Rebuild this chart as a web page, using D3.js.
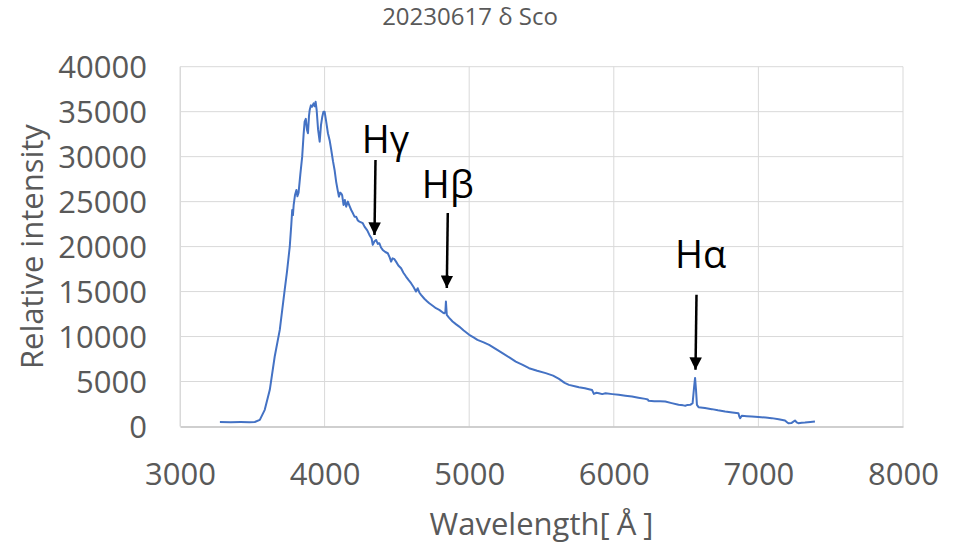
<!DOCTYPE html>
<meta charset="utf-8">
<style>
  body { margin: 0; background: #fff; }
  svg { display: block; }
  text { font-family: "Open Sans", sans-serif; }
  .tick text { fill: #595959; font-size: 31px; }
</style>
<body>
<svg width="955" height="545"></svg>
<script src="https://d3js.org/d3.v7.min.js"></script>
<script>
// spectrum (wavelength in Å, relative intensity)
const wavelength = [
  3276, 3350, 3420, 3480, 3517, 3552, 3586, 3621, 3655, 3690, 3724, 3740, 3759, 3770, 3776, 3781,
  3786, 3795, 3805, 3812, 3820, 3832, 3845, 3855, 3862, 3870, 3878, 3885, 3892, 3897, 3905, 3913,
  3924, 3932, 3938, 3945, 3955, 3966, 3975, 3984, 3992, 4000, 4010, 4023, 4035, 4046, 4058, 4069,
  4080, 4090, 4099, 4108, 4115, 4121, 4131, 4140, 4149, 4161, 4170, 4184, 4196, 4207, 4218, 4230,
  4241, 4264, 4276, 4295, 4310, 4325, 4333, 4345, 4356, 4368, 4379, 4390, 4402, 4420, 4437, 4450,
  4460, 4470, 4483, 4494, 4510, 4529, 4545, 4563, 4580, 4598, 4615, 4632, 4644, 4655, 4667, 4690,
  4710, 4724, 4750, 4770, 4793, 4815, 4828, 4835, 4839, 4845, 4860, 4885, 4910, 4931, 4960, 5000,
  5030, 5057, 5100, 5138, 5180, 5230, 5280, 5322, 5370, 5414, 5470, 5529, 5580, 5621, 5660, 5690,
  5730, 5759, 5800, 5828, 5850, 5862, 5880, 5897, 5920, 5943, 5990, 6034, 6080, 6126, 6170, 6218,
  6235, 6241, 6280, 6320, 6356, 6400, 6448, 6480, 6494, 6510, 6529, 6545, 6556, 6562, 6568, 6575,
  6586, 6630, 6678, 6720, 6770, 6820, 6862, 6868, 6874, 6885, 6920, 6954, 7000, 7050, 7092, 7140,
  7184, 7200, 7207, 7230, 7253, 7265, 7276, 7300, 7322, 7360, 7391
];
const intensity = [
  490, 480, 490, 480, 500, 740, 1850, 4080, 7780, 10740, 15190, 17220, 20000, 22500, 24080, 23500,
  24600, 25700, 26300, 25600, 26000, 28000, 30000, 32500, 33890, 34200, 33000, 32600, 34500, 35190, 35700, 35550,
  35930, 35600, 36100, 35190, 33000, 31670, 33500, 34440, 35000, 35000, 34000, 32600, 31800, 30740, 29500, 28520,
  27200, 26300, 25550, 26000, 25900, 25740, 24630, 25190, 24440, 25000, 24600, 24070, 23700, 23330, 23330, 22900,
  22780, 22600, 22220, 21800, 21300, 20900, 20190, 20600, 20740, 20300, 20370, 19900, 19630, 19400, 19260, 18800,
  18330, 18700, 18600, 18330, 17900, 17590, 17100, 16670, 16300, 15930, 15500, 15000, 15370, 14900, 14630, 14200,
  13900, 13700, 13400, 13150, 12960, 12700, 12590, 12700, 13890, 12410, 12100, 11670, 11350, 11110, 10700, 10190,
  9900, 9630, 9350, 9080, 8650, 8150, 7650, 7220, 6850, 6480, 6200, 5930, 5650, 5300, 4850, 4630,
  4480, 4370, 4250, 4150, 4050, 3630, 3750, 3700, 3600, 3700, 3600, 3520, 3420, 3330, 3200, 3070,
  3000, 2850, 2820, 2800, 2780, 2600, 2410, 2350, 2310, 2400, 2410, 2600, 4500, 5400, 4200, 2400,
  2150, 2050, 1930, 1800, 1670, 1560, 1480, 1100, 930, 1190, 1150, 1110, 1050, 990, 930, 800,
  670, 450, 370, 400, 670, 450, 370, 420, 440, 500, 560
];

const xTicks = [3000, 4000, 5000, 6000, 7000, 8000];
const yTicks = [0, 5000, 10000, 15000, 20000, 25000, 30000, 35000, 40000];

// Balmer line markers: name, wavelength of the arrow, intensity at the arrow tip
const lineNames = ["Hγ", "Hβ", "Hα"];
const lineWl = [4345, 4845, 6565];
const lineTip = [21300, 15400, 6300];

const title = "20230617 δ Sco";

const svg = d3.select("svg");
const plotL = 180, plotR = 903, plotT = 66.7, plotB = 426.5;

const x = d3.scaleLinear().domain([3000, 8000]).range([plotL, plotR]);
const y = d3.scaleLinear().domain([0, 40000]).range([plotB, plotT]);

// grid
svg.append("g")
  .selectAll("line")
  .data(yTicks.slice(1))
  .join("line")
  .attr("x1", plotL).attr("x2", plotR)
  .attr("y1", d => y(d)).attr("y2", d => y(d))
  .attr("stroke", "#d9d9d9").attr("stroke-width", 1);

svg.append("g")
  .selectAll("line")
  .data(xTicks)
  .join("line")
  .attr("x1", d => x(d)).attr("x2", d => x(d))
  .attr("y1", plotT).attr("y2", plotB)
  .attr("stroke", "#d9d9d9").attr("stroke-width", 1);

// axes
const xAxis = svg.append("g")
  .attr("transform", `translate(0,${plotB})`)
  .call(d3.axisBottom(x).tickValues(xTicks).tickSize(0).tickPadding(36).tickFormat(d3.format("d")));
xAxis.select(".domain").attr("stroke", "#bfbfbf").attr("stroke-width", 1.3);

const yAxis = svg.append("g")
  .attr("transform", `translate(${plotL},0)`)
  .call(d3.axisLeft(y).tickValues(yTicks).tickSize(0).tickPadding(33).tickFormat(d3.format("d")));
yAxis.select(".domain").attr("stroke", "#d9d9d9");
yAxis.selectAll(".tick text").attr("dy", "0.36em");

// spectrum
const pts = wavelength.map((w, i) => [w, intensity[i]]);
svg.append("path")
  .datum(pts)
  .attr("fill", "none")
  .attr("stroke", "#4472c4")
  .attr("stroke-width", 2)
  .attr("stroke-linejoin", "round")
  .attr("d", d3.line().x(d => x(d[0])).y(d => y(d[1])));

// arrows + labels
svg.append("defs").append("marker")
  .attr("id", "head")
  .attr("viewBox", "0 0 10 10")
  .attr("refX", 10).attr("refY", 5)
  .attr("markerWidth", 5).attr("markerHeight", 5)
  .attr("markerUnits", "strokeWidth")
  .attr("orient", "auto")
  .append("path")
  .attr("d", "M0,0L10,5L0,10Z")
  .attr("fill", "#000");

const labelShift = { "Hγ": [11, 7], "Hβ": [1, 15], "Hα": [5, 27] };
lineNames.forEach((name, i) => {
  const ax = x(lineWl[i]), ty = y(lineTip[i]), sy = ty - 75;
  svg.append("line")
    .attr("x1", ax + 1).attr("y1", sy)
    .attr("x2", ax).attr("y2", ty)
    .attr("stroke", "#000").attr("stroke-width", 2.5)
    .attr("marker-end", "url(#head)");
  svg.append("text")
    .attr("x", ax + labelShift[name][0])
    .attr("y", sy - labelShift[name][1])
    .attr("text-anchor", "middle")
    .attr("font-size", 38)
    .attr("fill", "#000")
    .text(name);
});

// titles
svg.append("text")
  .attr("x", 470).attr("y", 25)
  .attr("text-anchor", "middle")
  .attr("font-size", 24)
  .attr("fill", "#595959")
  .text(title);

// Å sits in a wide (full-width) slot in the original
const xt = svg.append("text")
  .attr("x", (plotL + plotR) / 2).attr("y", 535)
  .attr("text-anchor", "middle")
  .attr("font-size", 31)
  .attr("fill", "#595959")
  .text("Wavelength[");
xt.append("tspan").attr("dx", 7).text("Å");
xt.append("tspan").attr("dx", 7).text("]");

svg.append("text")
  .attr("transform", `translate(43,${(plotT + plotB) / 2}) rotate(-90)`)
  .attr("text-anchor", "middle")
  .attr("font-size", 31)
  .attr("fill", "#595959")
  .text("Relative intensity");
</script>
</body>
